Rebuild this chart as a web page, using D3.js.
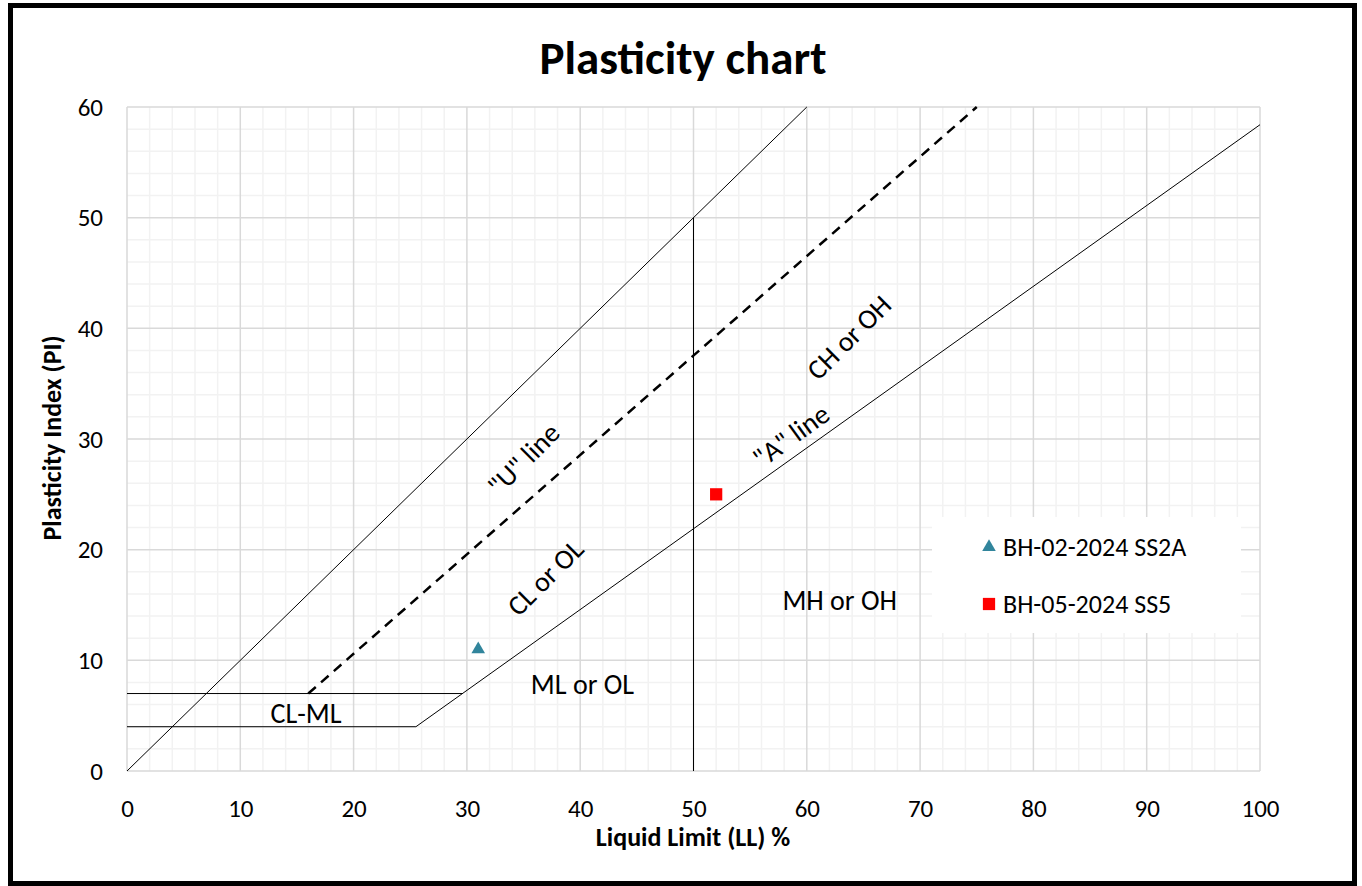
<!DOCTYPE html>
<html>
<head>
<meta charset="utf-8">
<script src="https://cdn.jsdelivr.net/npm/d3@7"></script>
<style>
  body { margin: 0; background: #fff; }
  svg text { font-family: Carlito, Lato, "Open Sans", sans-serif; fill: #000; }
</style>
</head>
<body>
<svg id="chart" width="1362" height="886"></svg>
<script>
// chart values
var xTicks = [0, 10, 20, 30, 40, 50, 60, 70, 80, 90, 100];
var yTicks = [0, 10, 20, 30, 40, 50, 60];

// boundary lines, [LL, PI]
var uLine = [[0, 0], [60, 60]];
var uLineDashed = [[16, 7], [75, 60]];
var aLine = [[25.5, 4], [100, 58.4]];
var pi7Line = [[0, 7], [29.6, 7]];
var pi4Line = [[0, 4], [25.5, 4]];
var ll50Line = [[50, 0], [50, 50]];

// samples
var seriesNames = ["BH-02-2024 SS2A", "BH-05-2024 SS5"];
var seriesColors = ["#31859C", "#FF0000"];
var seriesLL = [31, 52];
var seriesPI = [11, 25];

// zone labels: text, LL, PI, angle
var zoneLabels = [
  ["CL-ML", 15.8, 5.2, 0],
  ["ML or OL", 40.2, 7.8, 0],
  ["MH or OH", 62.9, 15.4, 0],
  ["CL or OL", 36.9, 17.5, -45],
  ["\"U\" line", 35.0, 28.2, -45],
  ["CH or OH", 63.7, 39.2, -45],
  ["\"A\" line", 58.6, 30.3, -36]
];

var svg = d3.select("#chart");

// outer frame
svg.append("rect")
  .attr("x", 10.5).attr("y", 5.5)
  .attr("width", 1344).attr("height", 878)
  .attr("fill", "#fff")
  .attr("stroke", "#000")
  .attr("stroke-width", 5);

var x = d3.scaleLinear().domain([0, 100]).range([127, 1260]);
var y = d3.scaleLinear().domain([0, 60]).range([771, 107]);

var grid = svg.append("g");

// minor grid every 2
grid.selectAll("line.mx")
    .data(d3.range(2, 100, 2).filter(function(d) { return d % 10 != 0; }))
  .enter().append("line")
    .attr("x1", function(d) { return x(d); })
    .attr("x2", function(d) { return x(d); })
    .attr("y1", y(0)).attr("y2", y(60))
    .attr("stroke", "#F2F2F2").attr("stroke-width", 1.5);

grid.selectAll("line.my")
    .data(d3.range(2, 60, 2).filter(function(d) { return d % 10 != 0; }))
  .enter().append("line")
    .attr("y1", function(d) { return y(d); })
    .attr("y2", function(d) { return y(d); })
    .attr("x1", x(0)).attr("x2", x(100))
    .attr("stroke", "#F2F2F2").attr("stroke-width", 1.5);

// major grid
grid.selectAll("line.Mx")
    .data(xTicks)
  .enter().append("line")
    .attr("x1", function(d) { return x(d); })
    .attr("x2", function(d) { return x(d); })
    .attr("y1", y(0)).attr("y2", y(60))
    .attr("stroke", "#D9D9D9").attr("stroke-width", 1.5);

grid.selectAll("line.My")
    .data(yTicks)
  .enter().append("line")
    .attr("y1", function(d) { return y(d); })
    .attr("y2", function(d) { return y(d); })
    .attr("x1", x(0)).attr("x2", x(100))
    .attr("stroke", "#D9D9D9").attr("stroke-width", 1.5);

// axes, labels only
var xAxis = svg.append("g")
    .attr("transform", "translate(0," + y(0) + ")")
    .call(d3.axisBottom(x).tickValues(xTicks).tickSize(0).tickPadding(28));
xAxis.select(".domain").remove();
xAxis.selectAll("text").style("font-size", "25px").attr("fill", "#000");

var yAxis = svg.append("g")
    .attr("transform", "translate(" + x(0) + ",0)")
    .call(d3.axisLeft(y).tickValues(yTicks).tickSize(0).tickPadding(24));
yAxis.select(".domain").remove();
yAxis.selectAll("text").style("font-size", "25px").attr("fill", "#000");

// boundary lines
var line = d3.line()
    .x(function(d) { return x(d[0]); })
    .y(function(d) { return y(d[1]); });

var plain = [uLine, aLine, pi7Line, pi4Line, ll50Line];
svg.append("g").selectAll("path")
    .data(plain)
  .enter().append("path")
    .attr("d", line)
    .attr("fill", "none")
    .attr("stroke", "#000")
    .attr("stroke-width", 1);

svg.append("path")
    .datum(uLineDashed)
    .attr("d", line)
    .attr("fill", "none")
    .attr("stroke", "#000")
    .attr("stroke-width", 2.5)
    .attr("stroke-dasharray", "10,7");

// zone labels
svg.append("g").selectAll("text")
    .data(zoneLabels)
  .enter().append("text")
    .attr("transform", function(d) {
      return "translate(" + x(d[1]) + "," + y(d[2]) + ") rotate(" + d[3] + ")";
    })
    .attr("text-anchor", "middle")
    .attr("dy", "0.35em")
    .style("font-size", "28px")
    .text(function(d) { return d[0]; });

// sample points
var symbols = [d3.symbolTriangle, d3.symbolSquare];
var sizes = [80, 150];

svg.append("g").selectAll("path")
    .data(seriesNames)
  .enter().append("path")
    .attr("transform", function(d, i) {
      return "translate(" + x(seriesLL[i]) + "," + y(seriesPI[i]) + ")";
    })
    .attr("d", function(d, i) { return d3.symbol().type(symbols[i]).size(sizes[i])(); })
    .attr("fill", function(d, i) { return seriesColors[i]; });

// legend
var legend = svg.append("g");
legend.append("rect")
    .attr("x", 932).attr("y", 517)
    .attr("width", 309).attr("height", 116)
    .attr("fill", "#fff");

var items = legend.selectAll("g")
    .data(seriesNames)
  .enter().append("g")
    .attr("transform", function(d, i) { return "translate(989," + (547 + i * 57) + ")"; });

items.append("path")
    .attr("d", function(d, i) { return d3.symbol().type(symbols[i]).size(sizes[i])(); })
    .attr("fill", function(d, i) { return seriesColors[i]; });

items.append("text")
    .attr("x", 14)
    .attr("dy", "0.35em")
    .style("font-size", "26px")
    .text(function(d) { return d; });

// titles
svg.append("text")
    .attr("x", 683).attr("y", 74)
    .attr("text-anchor", "middle")
    .style("font-size", "47px")
    .style("font-weight", "bold")
    .text("Plasticity chart");

svg.append("text")
    .attr("x", 693).attr("y", 846)
    .attr("text-anchor", "middle")
    .style("font-size", "26px")
    .style("font-weight", "bold")
    .text("Liquid Limit (LL) %");

svg.append("text")
    .attr("transform", "translate(61,438) rotate(-90)")
    .attr("text-anchor", "middle")
    .style("font-size", "26px")
    .style("font-weight", "bold")
    .text("Plasticity Index (PI)");
</script>
</body>
</html>
